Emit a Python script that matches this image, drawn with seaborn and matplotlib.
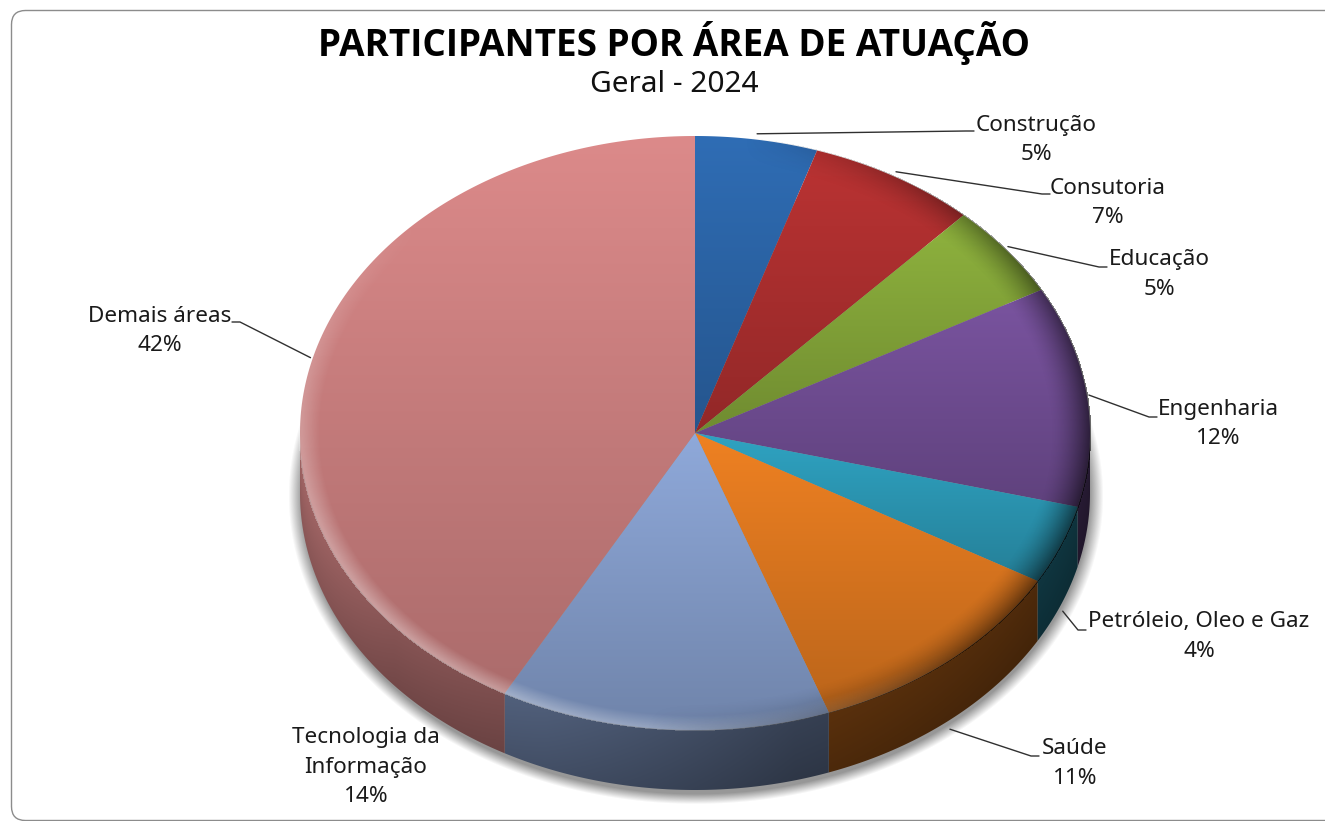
import numpy as np
import matplotlib
matplotlib.use('Agg')
import matplotlib.pyplot as plt
from matplotlib.patches import FancyBboxPatch, Polygon
import seaborn as sns

# dados do grafico
areas = ['Construção', 'Consutoria', 'Educação', 'Engenharia',
         'Petróleio, Oleo e Gaz', 'Saúde', 'Tecnologia da\nInformação', 'Demais áreas']
valores = [5.0, 6.9, 5.1, 12.0, 4.3, 11.2, 13.5, 42.0]
cores = ['#2f6db5', '#bb3333', '#8fb33e', '#7a54a0', '#2fa3c2', '#ef8122', '#8fa9da', '#dc8a8a']

# geometria do disco em pixels
cx, cy, rx, ry, depth = 695, 433, 395, 297, 60

# centro do rotulo (x, y da primeira linha) e onde a linha guia termina
pos_rotulo = [(1036, 125), (1108, 188), (1159, 260), (1218, 409),
              (1199, 622), (1075, 749), (366, 738), (160, 316)]
fim_guia = [(974, 131), (1050, 194), (1107, 267), (1157, 417),
            (1086, 630), (1039, 756), None, (232, 322)]

sns.set_theme(style='white')
plt.rcParams['font.family'] = ['Noto Sans', 'DejaVu Sans']
paleta = sns.color_palette(cores)

fig = plt.figure(figsize=(13.25, 8.21), dpi=100, facecolor='white')
ax = fig.add_axes([0, 0, 1, 1])
ax.set_axis_off()

ax.add_patch(FancyBboxPatch((11.5, 10.5), 1400, 810, boxstyle='round,pad=0,rounding_size=14',
                            fc='white', ec='#8c8c8c', lw=1.0))

# grade de pixels
extent = (cx - rx - 30, cx + rx + 30, cy + ry + depth + 30, cy - ry - 30)
xs = np.arange(extent[0], extent[1]) + 0.5
ys = np.arange(extent[3], extent[2]) + 0.5
X, Y = np.meshgrid(xs, ys)
U = (X - cx) / rx
V = (Y - cy) / ry
R = np.sqrt(U**2 + V**2)

# sombra embaixo do disco
Rs = np.sqrt(((X - cx - 1) / (rx + 3))**2 + ((Y - cy - depth - 3) / (ry + 4))**2)
sombra = np.zeros(X.shape + (4,))
sombra[..., :3] = 0.42
sombra[..., 3] = np.clip((1.024 - Rs) / 0.034, 0, 1) * 0.7
ax.imshow(sombra, extent=extent, interpolation='bilinear', aspect='auto', zorder=1)

# tons da parede lateral
borda = cy + ry * np.sqrt(np.clip(1 - U**2, 0, 1))
t = np.clip((Y - borda) / depth, 0, 1)
luz_x = np.interp(X, [cx - rx, cx - 300, cx - 150, cx + 100, cx + rx], [0.70, 0.58, 0.52, 0.36, 0.30])
tom_lado = luz_x * (1.06 - 0.16 * t)


def aro(a):
    # a em graus, sentido horario a partir do topo
    rad = np.radians(a)
    return cx + rx * np.sin(rad), cy - ry * np.cos(rad)


def pinta(cor, tom, poly, z):
    img = np.clip(np.array(cor)[None, None, :] * tom[..., None], 0, 1)
    im = ax.imshow(img, extent=extent, interpolation='bilinear', aspect='auto', zorder=z)
    patch = Polygon(poly, closed=True, transform=ax.transData, fc='none', ec='none')
    ax.add_patch(patch)
    im.set_clip_path(patch)


limites = np.concatenate([[0], np.cumsum(valores)]) / np.sum(valores) * 360

for i, cor in enumerate(paleta):
    a0, a1 = limites[i], limites[i + 1]
    # parede lateral so na metade da frente
    b0, b1 = max(a0, 90), min(a1, 270)
    if b1 > b0:
        ang = np.linspace(b0, b1, 120)
        px, py = aro(ang)
        poly = np.r_[np.c_[px, py], np.c_[px, py + depth][::-1]]
        pinta(cor, tom_lado, poly, 2)
    ang = np.linspace(a0, a1, 200)
    px, py = aro(ang)
    poly = np.r_[[[cx, cy]], np.c_[px, py]]
    # gradiente vertical proprio de cada fatia
    tom_topo = np.interp(Y, [poly[:, 1].min(), poly[:, 1].max()], [1.0, 0.78])
    pinta(cor, tom_topo, poly, 3)

# chanfro na borda da face de cima: claro na esquerda/baixo, escuro na direita
dentro = R <= 1.003
claro = np.clip((-0.72 * U + 0.7 * V) / np.maximum(R, 1e-6), 0, 1)
escuro = np.clip((0.95 * U + 0.12 * V) / np.maximum(R, 1e-6), 0, 1)
camada_clara = np.ones(X.shape + (4,))
camada_clara[..., 3] = np.clip((R - 0.95) / 0.045, 0, 1) * claro * 0.32 * dentro
camada_escura = np.zeros(X.shape + (4,))
camada_escura[..., 3] = np.clip((R - 0.90) / 0.10, 0, 1)**1.6 * escuro * 0.6 * dentro
ax.imshow(camada_clara, extent=extent, interpolation='bilinear', aspect='auto', zorder=4)
ax.imshow(camada_escura, extent=extent, interpolation='bilinear', aspect='auto', zorder=4)

# rotulos e linhas guia
meio = (limites[:-1] + limites[1:]) / 2
for i, area in enumerate(areas):
    lx, ly = pos_rotulo[i]
    texto = f'{area}\n{valores[i]:.0f}%'
    for j, linha in enumerate(texto.split('\n')):
        ax.text(lx, ly + j * 29.5, linha, ha='center', va='center', fontsize=16.2,
                color='#1a1a1a', zorder=6)
    if fim_guia[i] is None:
        continue
    gx, gy = aro(meio[i])
    gx = cx + (gx - cx) * 1.005
    gy = cy + (gy - cy) * 1.02
    if 90 < meio[i] < 270:
        gy += depth + 4
    fx, fy = fim_guia[i]
    passo = 8 if fx > gx else -8
    ax.plot([gx, fx - passo, fx], [gy, fy, fy], color='#303030', lw=1.0, zorder=6)

ax.text(674, 43, 'PARTICIPANTES POR ÁREA DE ATUAÇÃO', ha='center', va='center',
        fontsize=26.6, fontweight='bold', family='Open Sans', color='black', zorder=6)
ax.text(674, 85, 'Geral - 2024', ha='center', va='center', fontsize=21.5,
        color='#111111', zorder=6)

ax.set_xlim(0, 1325)
ax.set_ylim(821, 0)
fig.savefig('out.png', dpi=100, facecolor='white')
